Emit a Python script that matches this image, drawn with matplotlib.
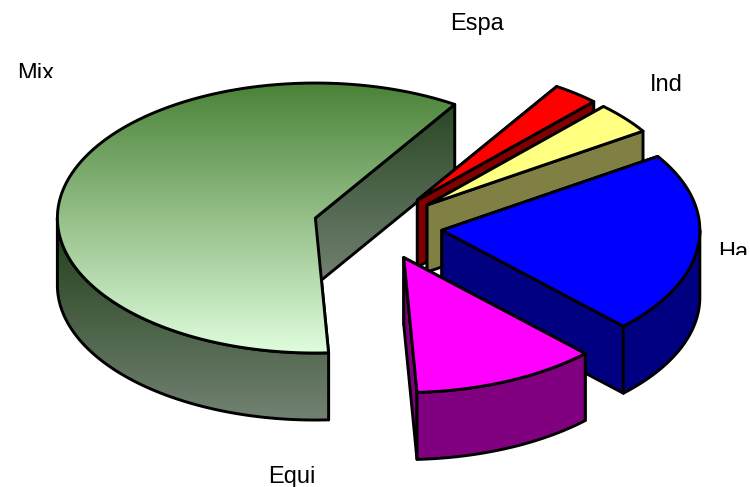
import numpy as np
import matplotlib
matplotlib.use('Agg')
import matplotlib.pyplot as plt
from matplotlib.patches import Polygon, Rectangle

plt.rcParams['font.family'] = ['Liberation Sans', 'DejaVu Sans']

#slices, clockwise from the start angle
labels = ['Espa', 'Ind', 'Ha', 'Equi', 'Mix']
values = [2.9, 3.8, 21.8, 11.6, 59.9]

top_colors = ['#ff0000', '#ffff80', '#0000ff', '#ff00ff']
side_colors = ['#800000', '#808045', '#000080', '#800080']

#pie geometry, in pixels
cx, cy = 377.7, 226.7
rx, ry = 258.0, 135.0
depth = 67.0
explode = 0.25
start_angle = 57.3

fig = plt.figure(figsize=(7.5, 4.87), dpi=100)
ax = fig.add_axes([0, 0, 1, 1])
ax.axis('off')

z = 1
line = dict(edgecolor='black', linewidth=2.1, joinstyle='round')


def next_z():
    global z
    z += 1
    return z


def arc(x0, y0, a1, a2):
    t = np.radians(np.linspace(a1, a2, 120))
    return np.column_stack([x0 + rx * np.cos(t), y0 - ry * np.sin(t)])


def face(pts, fill):
    #a colour gives a flat polygon, a pair of colours a vertical gradient
    if not isinstance(fill, tuple):
        ax.add_patch(Polygon(pts, closed=True, facecolor=fill, zorder=next_z(), **line))
        return
    c1 = np.array(matplotlib.colors.to_rgb(fill[0]))
    c2 = np.array(matplotlib.colors.to_rgb(fill[1]))
    f = np.linspace(0, 1, 256)[:, None, None]
    img = c1 * (1 - f) + c2 * f
    zz = next_z()
    y1, y2 = pts[:, 1].min(), pts[:, 1].max()
    im = ax.imshow(img, extent=[pts[:, 0].min(), pts[:, 0].max(), y2, y1],
                   aspect='auto', zorder=zz, interpolation='bilinear')
    im.set_clip_path(Polygon(pts, closed=True, transform=ax.transData))
    ax.add_patch(Polygon(pts, closed=True, facecolor='none', zorder=zz + 0.5, **line))


def draw_slice(a_hi, a_lo, top, side, wall):
    #goes from a_lo counter clockwise up to a_hi
    mid = np.radians((a_hi + a_lo) / 2.0)
    x0 = cx + explode * rx * np.cos(mid)
    y0 = cy - explode * ry * np.sin(mid)
    apex = np.array([x0, y0])
    down = np.array([0, depth])
    for a in [a_hi, a_lo]:
        p = arc(x0, y0, a, a)[0]
        face(np.array([apex, p, p + down, apex + down]), side)
    #outer wall, only the front half of the rim shows
    lo, hi = a_lo, a_hi
    if lo < 0:
        hi = min(hi, 0)
    else:
        lo = max(lo, 180)
    if hi > lo:
        rim = arc(x0, y0, lo, hi)
        face(np.vstack([rim + down, rim[::-1]]), wall)
    face(np.vstack([apex, arc(x0, y0, a_lo, a_hi)]), top)


angles = start_angle - np.cumsum([0] + values) / sum(values) * 360.0

#big slice is at the back, painted first
mix_top = ('#4a8237', '#dffddc')
mix_side = ('#2b4726', '#728272')
mix_wall = ('#1f3d18', '#728272')
draw_slice(angles[4] + 360, angles[5] + 360, mix_top, mix_side, mix_wall)
for i in range(4):
    draw_slice(angles[i], angles[i + 1], top_colors[i], side_colors[i], side_colors[i])

ax.set_xlim(0, 750)
ax.set_ylim(487, 0)

#labels, Mix and Ha are cut off by the plot area in the original
label_pos = {'Espa': (450, 30, 487), 'Ind': (650, 91, 487), 'Ha': (718, 259, 254.5),
             'Equi': (268, 483, 487), 'Mix': (17, 80, 78)}
for name in labels:
    x, y, clip = label_pos[name]
    t = ax.text(x, y, name, fontsize=17, color='black', ha='left', va='baseline', zorder=100)
    t.set_clip_path(Rectangle((0, 0), 750, clip, transform=ax.transData))
    t.set_clip_on(True)

fig.savefig('out.png', dpi=100)
